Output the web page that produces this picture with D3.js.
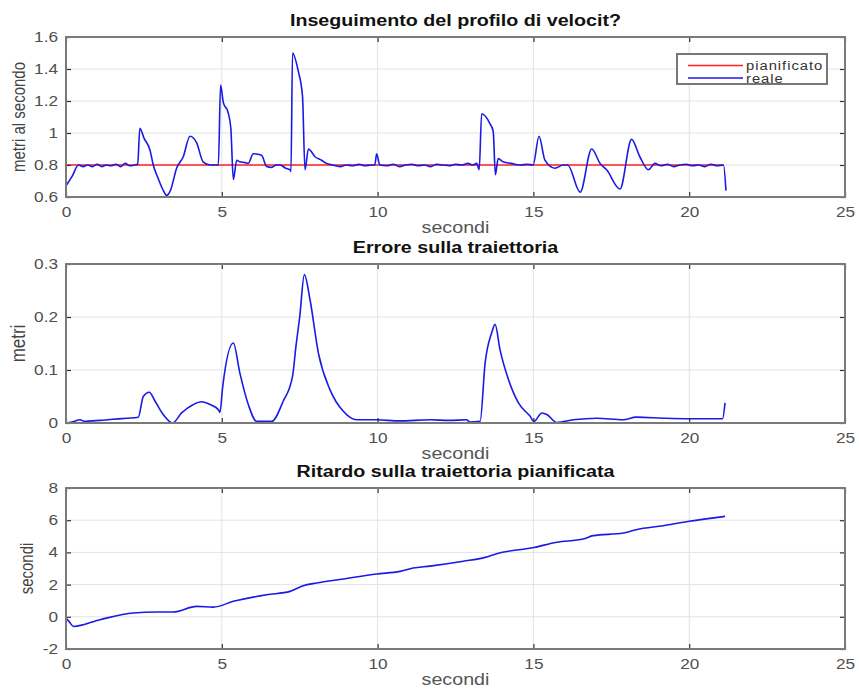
<!DOCTYPE html>
<html>
<head>
<meta charset="utf-8">
<script src="https://cdn.jsdelivr.net/npm/d3@7"></script>
<style>
  html, body { margin: 0; padding: 0; background: #fff; }
  svg { display: block; font-family: "Liberation Sans", Arial, Helvetica, sans-serif; }
</style>
</head>
<body>
<svg id="fig" width="859" height="692"></svg>
<script>
// ---- Velocity tracking (m/s) ----
const velTime = [0, 0.2, 0.4, 0.55, 0.7, 0.85, 1.0, 1.15, 1.3, 1.45, 1.6, 1.75, 1.9, 2.05, 2.2, 2.3,
  2.37, 2.5, 2.7, 2.8, 2.95, 3.1, 3.23, 3.35, 3.55, 3.76, 3.98, 4.19, 4.4, 4.62, 4.89,
  4.96, 5.05, 5.2, 5.29, 5.37, 5.48, 5.58, 5.75, 5.85, 6.01, 6.2, 6.28, 6.44, 6.6, 6.75, 6.87, 7.05, 7.19, 7.22,
  7.27, 7.45, 7.59, 7.67, 7.78, 8.0, 8.2, 8.36, 8.55, 8.8, 9.0, 9.2, 9.4, 9.6, 9.8, 9.91, 9.97, 10.07,
  10.3, 10.5, 10.7, 10.9, 11.1, 11.3, 11.5, 11.7, 11.9, 12.1, 12.3, 12.5, 12.7, 12.9, 13.05, 13.18, 13.26,
  13.34, 13.6, 13.71, 13.78, 13.87, 14.03, 14.29, 14.56, 14.8, 14.99, 15.18, 15.37, 15.69, 15.96, 16.1,
  16.5, 16.87, 17.14, 17.35, 17.78, 18.15, 18.42, 18.69, 18.9, 19.1, 19.3, 19.5, 19.7, 19.9, 20.1, 20.3,
  20.5, 20.7, 20.9, 21.1, 21.18];
const velReal = [0.67, 0.73, 0.80, 0.79, 0.80, 0.79, 0.805, 0.79, 0.80, 0.795, 0.805, 0.79, 0.81, 0.795, 0.80, 0.805,
  1.03, 0.97, 0.89, 0.80, 0.72, 0.65, 0.61, 0.64, 0.78, 0.85, 0.98, 0.94, 0.82, 0.80, 0.80,
  1.30, 1.19, 1.13, 1.03, 0.71, 0.83, 0.82, 0.815, 0.81, 0.87, 0.865, 0.86, 0.79, 0.785, 0.80, 0.80, 0.78, 0.77, 0.76,
  1.50, 1.39, 1.23, 0.77, 0.90, 0.85, 0.83, 0.81, 0.80, 0.79, 0.80, 0.795, 0.805, 0.795, 0.80, 0.80, 0.87, 0.80,
  0.795, 0.805, 0.79, 0.80, 0.805, 0.795, 0.80, 0.79, 0.805, 0.80, 0.795, 0.805, 0.80, 0.81, 0.80, 0.81, 0.77,
  1.12, 1.06, 1.01, 0.74, 0.84, 0.82, 0.81, 0.80, 0.805, 0.80, 0.98, 0.83, 0.78, 0.80, 0.80,
  0.63, 0.90, 0.81, 0.77, 0.65, 0.96, 0.85, 0.77, 0.81, 0.795, 0.805, 0.79, 0.80, 0.805, 0.795, 0.80,
  0.79, 0.805, 0.795, 0.80, 0.64];
const planTime = [0, 21.1];
const planVel = [0.8, 0.8];

// ---- Trajectory error (m) ----
const errTime = [0, 0.25, 0.45, 0.6, 0.8, 1.09, 1.5, 1.95, 2.32, 2.48, 2.67, 2.86, 3.12, 3.42, 3.71, 4.09, 4.35,
  4.62, 4.89, 4.94, 5.03, 5.37, 5.58, 5.85, 6.12, 6.6, 6.97, 7.27, 7.38, 7.5, 7.65, 7.83, 8.1, 8.47, 8.9, 9.33,
  9.97, 10.7, 11.68, 12.3, 12.86, 12.95, 13.29, 13.45, 13.66, 13.77, 13.93, 14.2, 14.52, 14.89, 15.02, 15.27,
  15.43, 15.75, 16.28, 17.03, 17.88, 18.3, 19.17, 20.0, 21.07, 21.15];
const errVal = [0, 0.003, 0.006, 0.003, 0.004, 0.005, 0.007, 0.009, 0.011, 0.05, 0.058, 0.041, 0.016, 0, 0.019, 0.035, 0.04,
  0.035, 0.025, 0.02, 0.069, 0.151, 0.094, 0.035, 0.003, 0.003, 0.041, 0.088, 0.145, 0.2, 0.28, 0.233, 0.132, 0.063, 0.022, 0.006,
  0.006, 0.004, 0.006, 0.005, 0.006, 0.002, 0.003, 0.113, 0.17, 0.186, 0.138, 0.082, 0.038, 0.013, 0.003, 0.019,
  0.016, 0.001, 0.006, 0.009, 0.006, 0.011, 0.009, 0.008, 0.008, 0.038];

// ---- Delay on the planned trajectory (s) ----
const delayTime = [0, 0.1, 0.24, 1.09, 2.16, 2.9, 3.44, 4.19, 4.73, 5.37, 6.44, 7.19, 7.61, 8.04, 8.9, 9.97, 10.72,
  11.14, 11.68, 12.75, 13.45, 13.82, 15.02, 15.75, 16.6, 16.92, 17.88, 18.3, 19.17, 20.0, 21.15];
const delayVal = [-0.1, -0.3, -0.6, -0.18, 0.24, 0.3, 0.3, 0.65, 0.6, 0.96, 1.37, 1.58, 1.93, 2.1, 2.35, 2.66, 2.82,
  3.03, 3.15, 3.45, 3.69, 3.92, 4.31, 4.63, 4.83, 5.04, 5.2, 5.41, 5.66, 5.93, 6.24];

const xTicks = [0, 5, 10, 15, 20, 25];
const velTicks = [0.6, 0.8, 1, 1.2, 1.4, 1.6];
const errTicks = [0, 0.1, 0.2, 0.3];
const delayTicks = [-2, 0, 2, 4, 6, 8];

const svg = d3.select("#fig");
const left = 66, right = 845;
const SX = 1.23;            // horizontal widening of the lettering
const x = d3.scaleLinear().domain([0, 25]).range([left, right]);

function hText(parent, cx, cy, str, size, opts = {}) {
  const t = parent.append("g").attr("transform", `translate(${cx},${cy}) scale(${SX},1)`)
    .append("text").attr("text-anchor", opts.anchor || "middle").attr("font-size", size)
    .attr("fill", opts.fill || "#555").text(str);
  if (opts.bold) t.attr("font-weight", "bold");
  if (opts.spacing) t.attr("letter-spacing", opts.spacing);
  return t;
}

function panel(o) {
  const y = d3.scaleLinear().domain(o.domain).range([o.bottom, o.top]);
  const g = svg.append("g");

  // grid
  g.append("g").selectAll("line").data(xTicks.slice(1, -1)).join("line")
    .attr("x1", d => x(d)).attr("x2", d => x(d)).attr("y1", o.top).attr("y2", o.bottom)
    .attr("stroke", "#e3e3e3").attr("stroke-width", 1);
  g.append("g").selectAll("line").data(o.yTicks.slice(1, -1)).join("line")
    .attr("x1", left).attr("x2", right).attr("y1", d => y(d)).attr("y2", d => y(d))
    .attr("stroke", "#e3e3e3").attr("stroke-width", 1);

  // data lines
  o.series.forEach(s => {
    const pts = s.t.map((t, i) => [t, s.v[i]]);
    g.append("path").datum(pts)
      .attr("fill", "none").attr("stroke", s.color).attr("stroke-width", 1.6)
      .attr("stroke-linejoin", "round")
      .attr("d", d3.line().curve(d3.curveMonotoneX).x(d => x(d[0])).y(d => y(d[1])));
  });

  // axes with inward ticks, mirrored on all four sides
  const fmt = d => String(d);
  const axB = g.append("g").attr("transform", `translate(0,${o.bottom})`)
    .call(d3.axisBottom(x).tickValues(xTicks).tickSize(-5).tickPadding(10).tickFormat(fmt));
  const axT = g.append("g").attr("transform", `translate(0,${o.top})`)
    .call(d3.axisTop(x).tickValues(xTicks).tickSize(-5).tickFormat(""));
  const axL = g.append("g").attr("transform", `translate(${left},0)`)
    .call(d3.axisLeft(y).tickValues(o.yTicks).tickSize(-5).tickPadding(8).tickFormat(fmt));
  const axR = g.append("g").attr("transform", `translate(${right},0)`)
    .call(d3.axisRight(y).tickValues(o.yTicks).tickSize(-5).tickFormat(""));
  [axB, axT, axL, axR].forEach(a => {
    a.select(".domain").remove();
    a.selectAll(".tick line").attr("stroke", "#333").attr("stroke-width", 1.2);
    a.selectAll("text").attr("fill", "#505050").style("font-size", "14px")
      .style("font-family", "'Liberation Sans', Arial, sans-serif");
  });
  axB.selectAll("text").attr("transform", `scale(${SX},1)`);
  axL.selectAll("text").attr("x", -8 / SX).attr("transform", `scale(${SX},1)`);

  // frame
  g.append("rect").attr("x", left).attr("y", o.top)
    .attr("width", right - left).attr("height", o.bottom - o.top)
    .attr("fill", "none").attr("stroke", "#7a7a7a").attr("stroke-width", 2);

  // title and labels
  hText(g, (left + right) / 2, o.top - 11, o.title, 16, { bold: true, fill: "#111" });
  hText(g, (left + right) / 2, o.bottom + 36, "secondi", 16, { fill: "#555" });
  g.append("g").attr("transform", `translate(${o.yLabelX},${(o.top + o.bottom) / 2}) scale(${SX},1) rotate(-90)`)
    .append("text").attr("text-anchor", "middle").attr("font-size", o.yLabelSize || 15)
    .attr("fill", "#444").text(o.yLabel);
  return { g, y };
}

panel({
  top: 37, bottom: 197, domain: [0.6, 1.6], yTicks: velTicks,
  title: "Inseguimento del profilo di velocit?", yLabel: "metri al secondo", yLabelX: 25,
  series: [
    { t: planTime, v: planVel, color: "#ff2020" },
    { t: velTime, v: velReal, color: "#1a1ae6" }
  ]
});

// legend
const leg = svg.append("g");
leg.append("rect").attr("x", 677).attr("y", 54).attr("width", 150).attr("height", 30)
  .attr("fill", "#fff").attr("stroke", "#777").attr("stroke-width", 2);
[["pianificato", "#ff2020", 65.5, 69.5], ["reale", "#1a1ae6", 78, 82.5]].forEach(([name, c, yy, by]) => {
  leg.append("line").attr("x1", 688).attr("x2", 743).attr("y1", yy).attr("y2", yy)
    .attr("stroke", c).attr("stroke-width", 1.6);
  hText(leg, 746, by, name, 12, { anchor: "start", fill: "#333", spacing: 0.8 });
});

panel({
  top: 264, bottom: 423, domain: [0, 0.3], yTicks: errTicks,
  title: "Errore sulla traiettoria", yLabel: "metri", yLabelSize: 17, yLabelX: 25,
  series: [{ t: errTime, v: errVal, color: "#1a1ae6" }]
});

panel({
  top: 488, bottom: 649, domain: [-2, 8], yTicks: delayTicks,
  title: "Ritardo sulla traiettoria pianificata", yLabel: "secondi", yLabelX: 33,
  series: [{ t: delayTime, v: delayVal, color: "#1a1ae6" }]
});
</script>
</body>
</html>
